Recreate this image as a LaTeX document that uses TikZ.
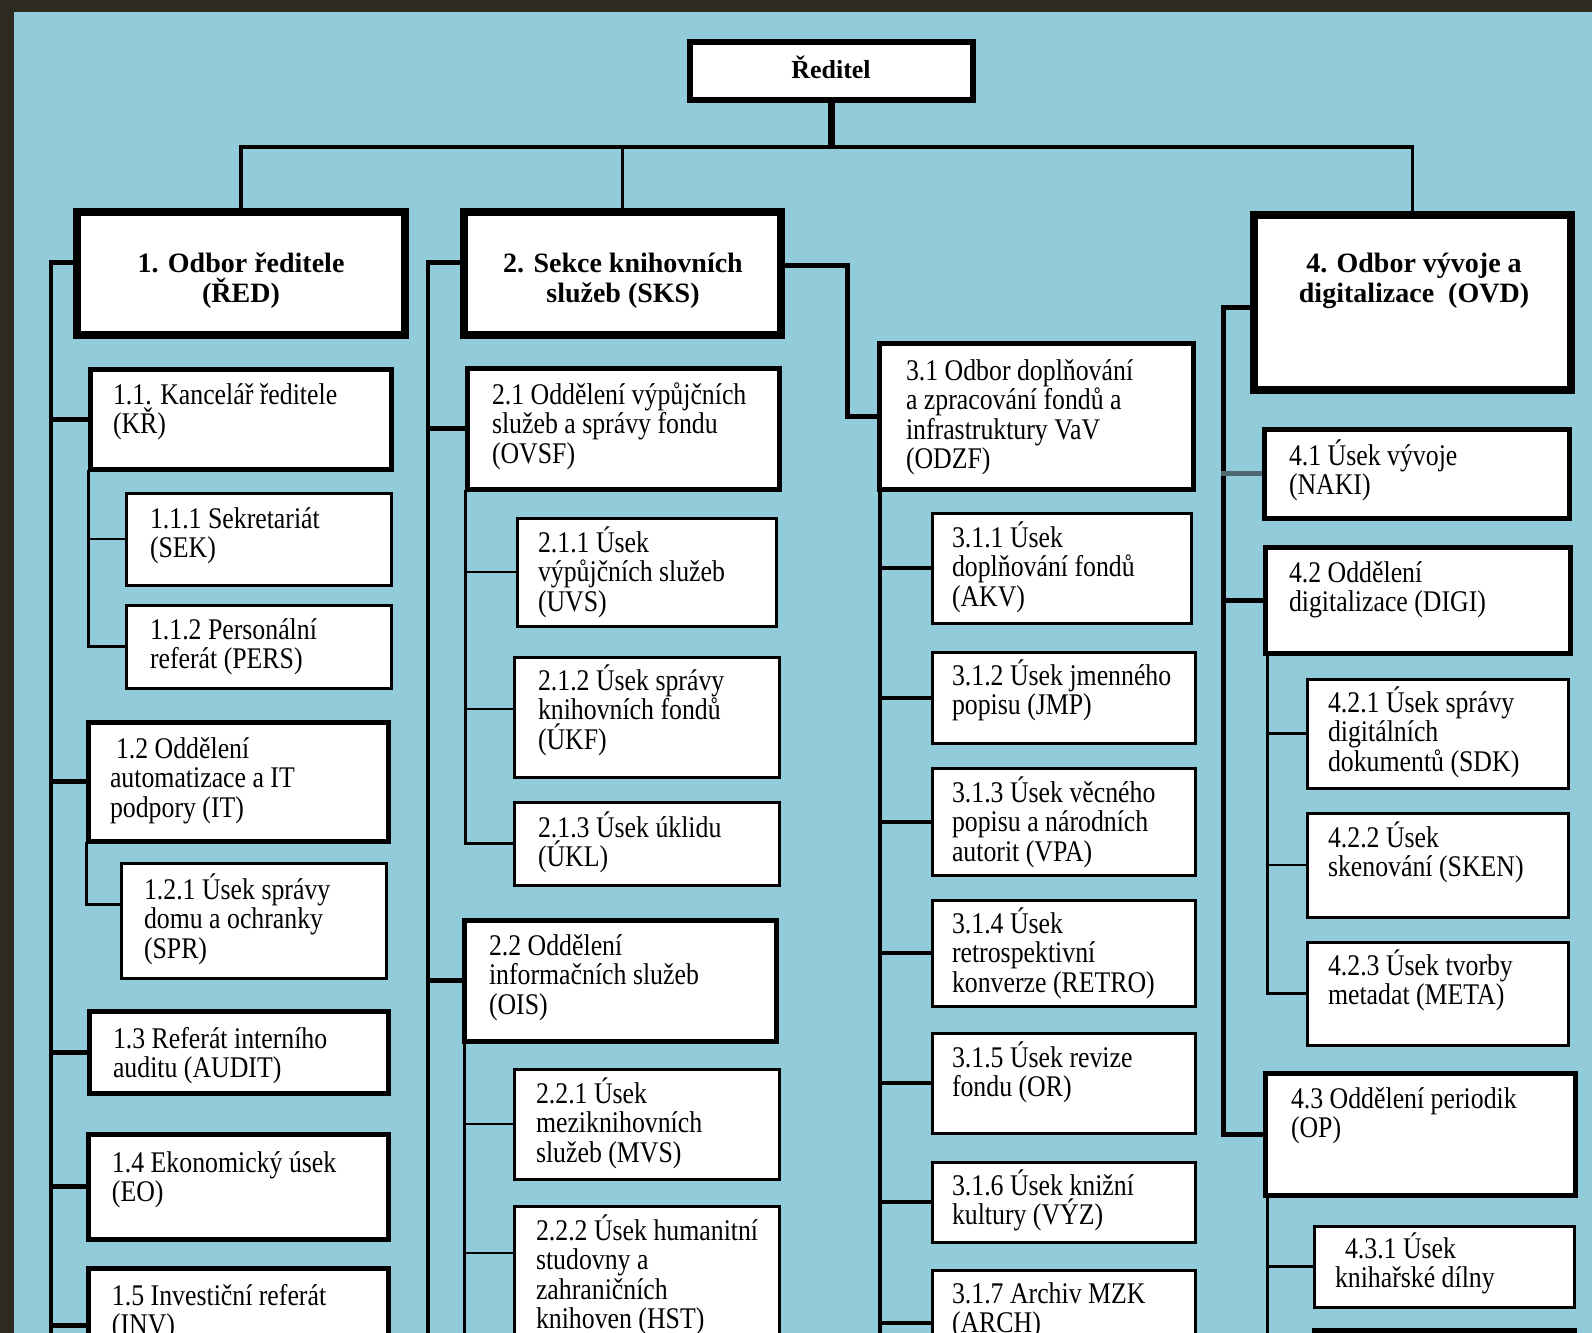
\documentclass[tikz,border=0pt]{standalone}
\usepackage{fontspec}
\setmainfont{Liberation Serif}
\newfontfamily\regf[FakeStretch=0.86]{Liberation Serif}
\usetikzlibrary{fit}
\definecolor{bgblue}{HTML}{92CBD9}
\definecolor{framec}{HTML}{2D2A20}
\definecolor{grayc}{HTML}{4E6A70}
\pgfdeclarelayer{back}
\pgfdeclarelayer{lines}
\pgfsetlayers{back,lines,main}
\newcommand\txtf{\regf\fontsize{15}{14.75}\selectfont}
\newcommand\hdf{\bfseries\fontsize{14}{15}\selectfont}
\tikzset{
  lvone/.style={draw=black, fill=white, line width=4pt, inner sep=0pt},
  lvtwo/.style={draw=black, fill=white, line width=2.5pt, inner sep=0pt},
  lvthree/.style={draw=black, fill=white, line width=1.5pt, inner sep=0pt},
  txt/.style={inner sep=0pt, outer sep=0pt},
  conn/.style={draw=black, line width=1.7pt, line cap=rect},
  trunkc/.style={draw=black, line width=3.2pt},
  thickc/.style={draw=black, line width=2.5pt, line cap=rect},
  spinec/.style={draw=black, line width=2pt, line cap=rect},
  subc/.style={draw=black, line width=1.3pt, line cap=rect},
}
\newcommand\orgbox[9]{%
  \node[#2, fit={(#3,#4) (#5,#6)}] (#1) {};
  \node[txt, anchor=base west] (#1-t) at ({#3+#7},{#4+#8}) {\parbox[t]{190pt}{\txtf\raggedright #9}};
}
\begin{document}
\begin{tikzpicture}[x=0.5pt, y=-0.5pt]
\useasboundingbox (0,0) rectangle (1592,1333);
\begin{pgfonlayer}{back}
  \fill[framec] (0,0) rectangle (1592,1333);
  \fill[bgblue] (14,12) rectangle (1592,1333);
\end{pgfonlayer}

% top level
\node[draw=black, fill=white, line width=3pt, inner sep=0pt, fit={(690,42) (973,100)}] (red) {};
\node[txt, anchor=base] (red-t) at (831,78) {\bfseries\fontsize{13}{14}\selectfont Ředitel};

\node[lvone, fit={(77,212) (405,335)}] (b1) {};
\node[txt, anchor=base] (b1-t) at (241,272) {\parbox[t]{200pt}{\centering\hdf 1. Odbor ředitele\\(ŘED)}};
\node[lvone, fit={(464,212) (781,335)}] (b2) {};
\node[txt, anchor=base] (b2-t) at (623,272) {\parbox[t]{200pt}{\centering\hdf 2. Sekce knihovních\\služeb (SKS)}};
\node[lvone, fit={(1254,215) (1571,390)}] (b4) {};
\node[txt, anchor=base] (b4-t) at (1414,272) {\parbox[t]{200pt}{\centering\hdf 4. Odbor vývoje a\\digitalizace\ \ (OVD)}};

% column 1
\orgbox{b11}{lvtwo}{90}{369}{391}{469}{23}{35}{1.1. Kancelář ředitele\\(KŘ)}
\orgbox{b111}{lvthree}{126}{493}{391}{585}{24}{35}{1.1.1 Sekretariát\\(SEK)}
\orgbox{b112}{lvthree}{126}{605}{391}{688}{24}{34}{1.1.2 Personální\\referát (PERS)}
\orgbox{b12}{lvtwo}{88}{722}{388}{841}{22}{36}{\hspace{3pt}1.2 Oddělení\\automatizace a IT\\podpory (IT)}
\orgbox{b121}{lvthree}{121}{863}{386}{978}{23}{36}{1.2.1 Úsek správy\\domu a ochranky\\(SPR)}
\orgbox{b13}{lvtwo}{89}{1011}{388}{1093}{24}{37}{1.3 Referát interního\\auditu (AUDIT)}
\orgbox{b14}{lvtwo}{88}{1134}{388}{1239}{24}{38}{1.4 Ekonomický úsek\\(EO)}
\orgbox{b15}{lvtwo}{88}{1268}{388}{1382}{24}{37}{1.5 Investiční referát\\(INV)}

% column 2
\orgbox{b21}{lvtwo}{467}{368}{779}{489}{25}{36}{2.1 Oddělení výpůjčních\\služeb a správy fondu\\(OVSF)}
\orgbox{b211}{lvthree}{517}{518}{776}{626}{21}{34}{2.1.1 Úsek\\výpůjčních služeb\\(UVS)}
\orgbox{b212}{lvthree}{514}{657}{779}{777}{24}{33}{2.1.2 Úsek správy\\knihovních fondů\\(ÚKF)}
\orgbox{b213}{lvthree}{514}{802}{779}{885}{24}{35}{2.1.3 Úsek úklidu\\(ÚKL)}
\orgbox{b22}{lvtwo}{464}{920}{776}{1041}{25}{35}{2.2 Oddělení\\informačních služeb\\(OIS)}
\orgbox{b221}{lvthree}{514}{1069}{779}{1179}{22}{34}{2.2.1 Úsek\\meziknihovních\\služeb (MVS)}
\orgbox{b222}{lvthree}{514}{1206}{779}{1400}{22}{34}{2.2.2 Úsek humanitní\\studovny a\\zahraničních\\knihoven (HST)}

% column 3
\orgbox{b31}{lvtwo}{879}{343}{1193}{489}{27}{37}{3.1 Odbor doplňování\\a zpracování fondů a\\infrastruktury VaV\\(ODZF)}
\orgbox{b311}{lvthree}{932}{513}{1191}{623}{20}{34}{3.1.1 Úsek\\doplňování fondů\\(AKV)}
\orgbox{b312}{lvthree}{932}{652}{1195}{743}{20}{33}{3.1.2 Úsek jmenného\\popisu (JMP)}
\orgbox{b313}{lvthree}{932}{768}{1195}{875}{20}{34}{3.1.3 Úsek věcného\\popisu a národních\\autorit (VPA)}
\orgbox{b314}{lvthree}{932}{900}{1195}{1006}{20}{33}{3.1.4 Úsek\\retrospektivní\\konverze (RETRO)}
\orgbox{b315}{lvthree}{932}{1033}{1195}{1133}{20}{34}{3.1.5 Úsek revize\\fondu (OR)}
\orgbox{b316}{lvthree}{932}{1162}{1195}{1242}{20}{33}{3.1.6 Úsek knižní\\kultury (VÝZ)}
\orgbox{b317}{lvthree}{932}{1270}{1195}{1376}{20}{33}{3.1.7 Archiv MZK\\(ARCH)}

% column 4
\orgbox{b41}{lvtwo}{1264}{429}{1569}{518}{25}{36}{4.1 Úsek vývoje\\(NAKI)}
\orgbox{b42}{lvtwo}{1265}{547}{1570}{653}{24}{35}{4.2 Oddělení\\digitalizace (DIGI)}
\orgbox{b421}{lvthree}{1307}{679}{1568}{788}{21}{33}{4.2.1 Úsek správy\\digitálních\\dokumentů (SDK)}
\orgbox{b422}{lvthree}{1307}{813}{1568}{917}{21}{34}{4.2.2 Úsek\\skenování (SKEN)}
\orgbox{b423}{lvthree}{1307}{942}{1568}{1045}{21}{33}{4.2.3 Úsek tvorby\\metadat (META)}
\orgbox{b43}{lvtwo}{1265}{1073}{1575}{1195}{26}{35}{4.3 Oddělení periodik\\(OP)}
\orgbox{b431}{lvthree}{1314}{1226}{1574}{1307}{21}{32}{\hspace{5pt}4.3.1 Úsek\\knihařské dílny}
\node[lvtwo, fit={(1314,1330) (1574,1420)}] (b432) {};

\begin{pgfonlayer}{lines}
  % top
  \coordinate (bar) at (831,147);
  \draw[trunkc] (red.south) -- (red.south |- bar);
  \draw[conn] (b1.north |- bar) -- (b4.north |- bar);
  \draw[conn] (b1.north) -- (b1.north |- bar);
  \draw[conn] (b2.north) -- (b2.north |- bar);
  \draw[conn] (b4.north) -- (b4.north |- bar);

  % column 1
  \coordinate (s1) at (51,262);
  \coordinate (s1e) at (51,1345);
  \draw[thickc] (b1.west |- s1) -- (s1);
  \draw[spinec] (s1) -- (s1e);
  \foreach \b in {b11,b12,b13,b14,b15} \draw[thickc] (\b.west) -- (\b.west -| s1);
  \coordinate (s11) at ([xshift=0.5pt]b11.south west);
  \draw[subc] (s11) |- (b112.west);
  \draw[subc] (b111.west) -- (b111.west -| s11);
  \coordinate (s12) at ([xshift=0.5pt]b12.south west);
  \draw[subc] (s12) |- ([yshift=8pt]b121.west);

  % column 2
  \coordinate (s2) at (428,262);
  \coordinate (s2e) at (428,1345);
  \draw[thickc] (b2.west |- s2) -- (s2);
  \draw[spinec] (s2) -- (s2e);
  \draw[thickc] (b21.west) -- (b21.west -| s2);
  \draw[thickc] (b22.west) -- (b22.west -| s2);
  \coordinate (s21) at ([xshift=0.5pt]b21.south west);
  \draw[subc] (s21) |- (b213.west);
  \draw[subc] (b211.west) -- (b211.west -| s21);
  \draw[subc] ([yshift=4pt]b212.west) -- ([yshift=4pt]b212.west -| s21);
  \coordinate (s22) at ([xshift=1.5pt]b22.south west);
  \draw[subc] (s22) -- (s22 |- s2e);
  \draw[subc] (b221.west) -- (b221.west -| s22);
  \draw[subc] ([yshift=25pt]b222.west) -- ([yshift=25pt]b222.west -| s22);

  % column 3
  \coordinate (c3) at (847,265);
  \draw[thickc] (b2.east |- c3) -- (c3) |- (b31.west);
  \coordinate (s31) at ([xshift=1.5pt]b31.south west);
  \draw[spinec] (s31) -- (s31 |- s2e);
  \foreach \b in {b311,b312,b313,b314,b315,b316,b317} \draw[spinec] (\b.west) -- (\b.west -| s31);

  % column 4
  \coordinate (c4) at (1223,307);
  \draw[thickc] (b4.west |- c4) -- (c4) |- (b43.west);
  \draw[thickc, draw=grayc] (b41.west) -- (b41.west -| c4);
  \draw[thickc] (b42.west) -- (b42.west -| c4);
  \coordinate (s42) at ([xshift=2.5pt]b42.south west);
  \draw[subc] (s42) |- (b423.west);
  \draw[subc] (b421.west) -- (b421.west -| s42);
  \draw[subc] (b422.west) -- (b422.west -| s42);
  \coordinate (s43) at ([xshift=2.5pt]b43.south west);
  \draw[subc] (s43) -- (s43 |- s2e);
  \draw[subc] (b431.west) -- (b431.west -| s43);
\end{pgfonlayer}
\end{tikzpicture}
\end{document}
